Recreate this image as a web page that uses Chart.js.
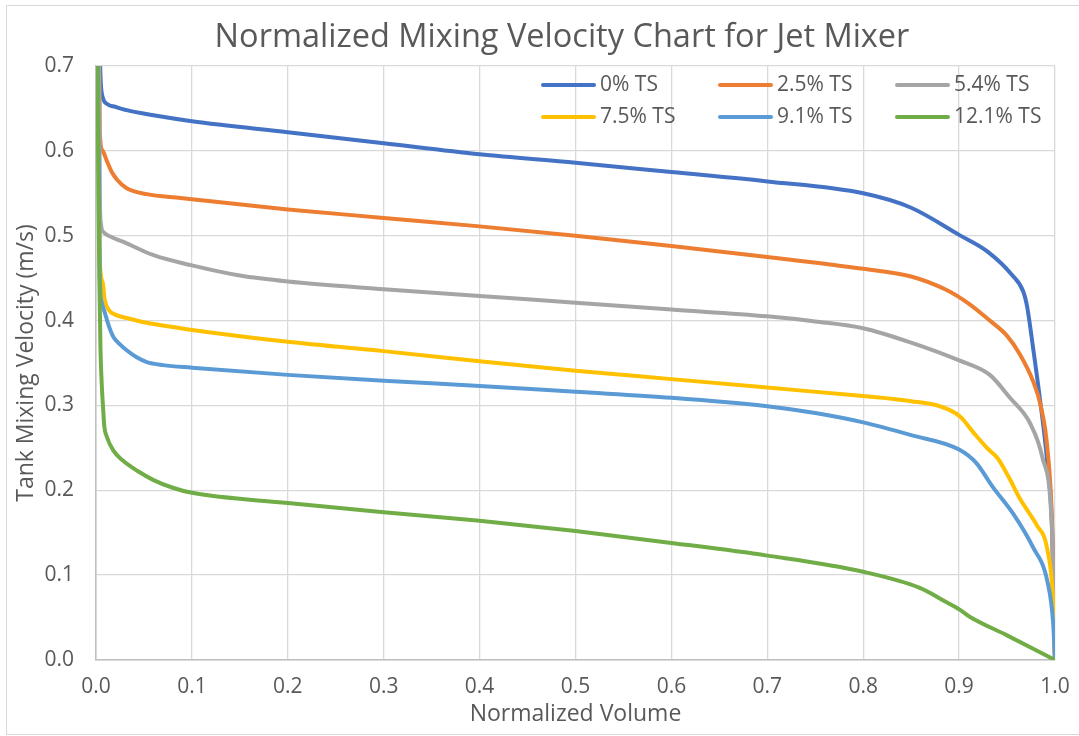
<!DOCTYPE html>
<html>
<head>
<meta charset="utf-8">
<title>Normalized Mixing Velocity Chart for Jet Mixer</title>
<script src="https://cdn.jsdelivr.net/npm/chart.js@4.4.1/dist/chart.umd.min.js"></script>
<style>
  html, body { margin: 0; padding: 0; background: #ffffff; overflow: hidden; width: 1079px; height: 736px; }
  #frame { position: absolute; left: 6px; top: 5px; width: 1112px; height: 730px;
           border: 1px solid #d9d9d9; box-sizing: border-box; pointer-events: none; }
  #chart { position: absolute; left: 0; top: 0; }
</style>
</head>
<body>
<div id="frame"></div>
<canvas id="chart" width="1124" height="736"></canvas>
<script>
const chartTitle = 'Normalized Mixing Velocity Chart for Jet Mixer';

// Series labels (total solids content)
const seriesLabels = ['0% TS', '2.5% TS', '5.4% TS', '7.5% TS', '9.1% TS', '12.1% TS'];
const seriesColors = ['#4472C4', '#ED7D31', '#A5A5A5', '#FFC000', '#5B9BD5', '#70AD47'];

// Axis ticks
const volumeTicks = [0.0, 0.1, 0.2, 0.3, 0.4, 0.5, 0.6, 0.7, 0.8, 0.9, 1.0];
const velocityTicks = [0.0, 0.1, 0.2, 0.3, 0.4, 0.5, 0.6, 0.7];

// 0% TS
const volume0 = [0.003, 0.005, 0.007, 0.012, 0.02, 0.032, 0.06, 0.1, 0.2, 0.3, 0.4, 0.5, 0.6, 0.7, 0.8, 0.85, 0.9, 0.93, 0.955, 0.967, 0.971, 0.977, 0.984, 0.992, 0.997, 1.0];
const velocity0 = [0.75, 0.68, 0.663, 0.655, 0.652, 0.648, 0.642, 0.635, 0.622, 0.609, 0.596, 0.586, 0.575, 0.564, 0.550, 0.533, 0.501, 0.481, 0.454, 0.434, 0.416, 0.369, 0.31, 0.232, 0.153, 0.0];

// 2.5% TS
const volume25 = [0.003, 0.004, 0.007, 0.011, 0.016, 0.022, 0.032, 0.053, 0.088, 0.1, 0.2, 0.3, 0.4, 0.5, 0.6, 0.7, 0.8, 0.85, 0.887, 0.91, 0.932, 0.95, 0.963, 0.977, 0.985, 0.992, 0.997, 1.0];
const velocity25 = [0.75, 0.62, 0.6, 0.589, 0.576, 0.566, 0.556, 0.549, 0.5445, 0.543, 0.531, 0.521, 0.511, 0.500, 0.488, 0.475, 0.461, 0.452, 0.436, 0.42, 0.4, 0.382, 0.361, 0.329, 0.30, 0.25, 0.16, 0.0];

// 5.4% TS
const volume54 = [0.003, 0.004, 0.005, 0.008, 0.015, 0.032, 0.06, 0.1, 0.15, 0.2, 0.3, 0.4, 0.5, 0.6, 0.7, 0.75, 0.8, 0.85, 0.9, 0.932, 0.953, 0.974, 0.987, 0.997, 1.0];
const velocity54 = [0.75, 0.55, 0.515, 0.504, 0.499, 0.491, 0.477, 0.465, 0.453, 0.446, 0.437, 0.429, 0.421, 0.413, 0.405, 0.399, 0.391, 0.374, 0.353, 0.336, 0.309, 0.279, 0.238, 0.15, 0.0];

// 7.5% TS
const volume75 = [0.002, 0.004, 0.007, 0.009, 0.013, 0.02, 0.032, 0.05, 0.088, 0.1, 0.2, 0.3, 0.4, 0.5, 0.6, 0.7, 0.8, 0.85, 0.88, 0.901, 0.915, 0.929, 0.94, 0.952, 0.963, 0.972, 0.981, 0.992, 0.998, 1.0];
const velocity75 = [0.75, 0.47, 0.445, 0.425, 0.413, 0.407, 0.403, 0.398, 0.391, 0.389, 0.375, 0.364, 0.352, 0.341, 0.331, 0.321, 0.311, 0.305, 0.299, 0.287, 0.268, 0.25, 0.238, 0.215, 0.191, 0.175, 0.159, 0.13, 0.07, 0.0];

// 9.1% TS
const volume91 = [0.002, 0.004, 0.006, 0.009, 0.013, 0.018, 0.025, 0.032, 0.042, 0.053, 0.07, 0.1, 0.2, 0.3, 0.4, 0.5, 0.6, 0.7, 0.75, 0.8, 0.85, 0.9, 0.918, 0.935, 0.956, 0.977, 0.992, 0.998, 1.0];
const velocity91 = [0.75, 0.45, 0.421, 0.41, 0.395, 0.381, 0.372, 0.365, 0.357, 0.351, 0.3475, 0.3445, 0.336, 0.329, 0.323, 0.316, 0.309, 0.299, 0.291, 0.280, 0.265, 0.248, 0.232, 0.204, 0.173, 0.133, 0.093, 0.045, 0.0];

// 12.1% TS
const volume121 = [0.0012, 0.0025, 0.0035, 0.0047, 0.006, 0.0075, 0.0087, 0.011, 0.018, 0.028, 0.043, 0.06, 0.08, 0.1, 0.2, 0.3, 0.4, 0.5, 0.6, 0.7, 0.8, 0.859, 0.887, 0.901, 0.911, 0.95, 1.0];
const velocity121 = [0.75, 0.55, 0.45, 0.365, 0.325, 0.295, 0.275, 0.264, 0.247, 0.235, 0.223, 0.212, 0.203, 0.197, 0.185, 0.174, 0.164, 0.152, 0.138, 0.123, 0.104, 0.085, 0.068, 0.059, 0.051, 0.029, 0.0];

const volumes = [volume0, volume25, volume54, volume75, volume91, volume121];
const velocities = [velocity0, velocity25, velocity54, velocity75, velocity91, velocity121];

const textColor = '#595959';
const gridColor = '#d9d9d9';
const axisColor = '#bfbfbf';
const fontFamily = '"Open Sans", "Noto Sans", sans-serif';

const datasets = seriesLabels.map((label, i) => ({
  label,
  data: volumes[i].map((x, k) => ({ x, y: velocities[i][k] })),
  borderColor: seriesColors[i],
  backgroundColor: seriesColors[i],
  borderWidth: 4,
  pointRadius: 0,
  cubicInterpolationMode: 'monotone',
  borderCapStyle: 'round',
  borderJoinStyle: 'round',
  fill: false,
  clip: 0,
  order: seriesLabels.length - i   // later series are painted over earlier ones
}));

// Title centred on the whole chart frame rather than on the plot area
const frameTitle = {
  id: 'frameTitle',
  afterDraw(chart) {
    const ctx = chart.ctx;
    ctx.save();
    ctx.font = '32.5px ' + fontFamily;
    ctx.fillStyle = textColor;
    ctx.textAlign = 'center';
    ctx.textBaseline = 'middle';
    ctx.fillText(chartTitle, chart.width / 2, 38);
    ctx.restore();
  }
};

// Legend laid out in a 3 x 2 grid inside the plot area, top right
const gridLegend = {
  id: 'gridLegend',
  afterDatasetsDraw(chart) {
    const ctx = chart.ctx;
    const area = chart.chartArea;
    ctx.save();
    ctx.font = '21px ' + fontFamily;
    ctx.textBaseline = 'middle';
    ctx.textAlign = 'left';
    chart.data.datasets.forEach((ds, i) => {
      const col = i % 3, row = Math.floor(i / 3);
      const x0 = area.left + 447 + col * 177;
      const y0 = area.top + 19 + row * 32;
      ctx.strokeStyle = ds.borderColor;
      ctx.lineWidth = 4;
      ctx.lineCap = 'round';
      ctx.beginPath();
      ctx.moveTo(x0, y0);
      ctx.lineTo(x0 + 51, y0);
      ctx.stroke();
      ctx.fillStyle = textColor;
      ctx.fillText(ds.label, x0 + 57, y0);
    });
    ctx.restore();
  }
};

new Chart(document.getElementById('chart'), {
  type: 'line',
  data: { datasets },
  plugins: [gridLegend, frameTitle],
  options: {
    responsive: false,
    animation: false,
    events: [],
    layout: { padding: { left: 0, right: 69, top: 66, bottom: 0 } },
    plugins: {
      legend: { display: false },
      tooltip: { enabled: false },
      title: { display: false }
    },
    scales: {
      x: {
        type: 'linear',
        min: 0, max: 1,
        afterFit: s => { s.height = 76; },
        afterBuildTicks: s => { s.ticks = volumeTicks.map(v => ({ value: v })); },
        ticks: {
          color: textColor,
          font: { family: fontFamily, size: 21 },
          padding: 14,
          maxRotation: 0,
          callback: v => Number(v).toFixed(1)
        },
        grid: { color: gridColor, lineWidth: 1.3, drawTicks: false },
        border: { color: axisColor, width: 1.5 },
        title: {
          display: true,
          text: 'Normalized Volume',
          color: textColor,
          font: { family: fontFamily, size: 23 },
          padding: { top: 0, bottom: 8 }
        }
      },
      y: {
        type: 'linear',
        min: 0, max: 0.7,
        afterFit: s => { s.width = 96; },
        afterBuildTicks: s => { s.ticks = velocityTicks.map(v => ({ value: v })); },
        ticks: {
          color: textColor,
          font: { family: fontFamily, size: 21 },
          padding: 22,
          callback: v => Number(v).toFixed(1)
        },
        grid: { color: gridColor, lineWidth: 1.3, drawTicks: false },
        border: { color: axisColor, width: 1.5 },
        title: {
          display: true,
          text: 'Tank Mixing Velocity (m/s)',
          color: textColor,
          font: { family: fontFamily, size: 23 },
          padding: { top: 13, bottom: 0 }
        }
      }
    }
  }
});
</script>
</body>
</html>
